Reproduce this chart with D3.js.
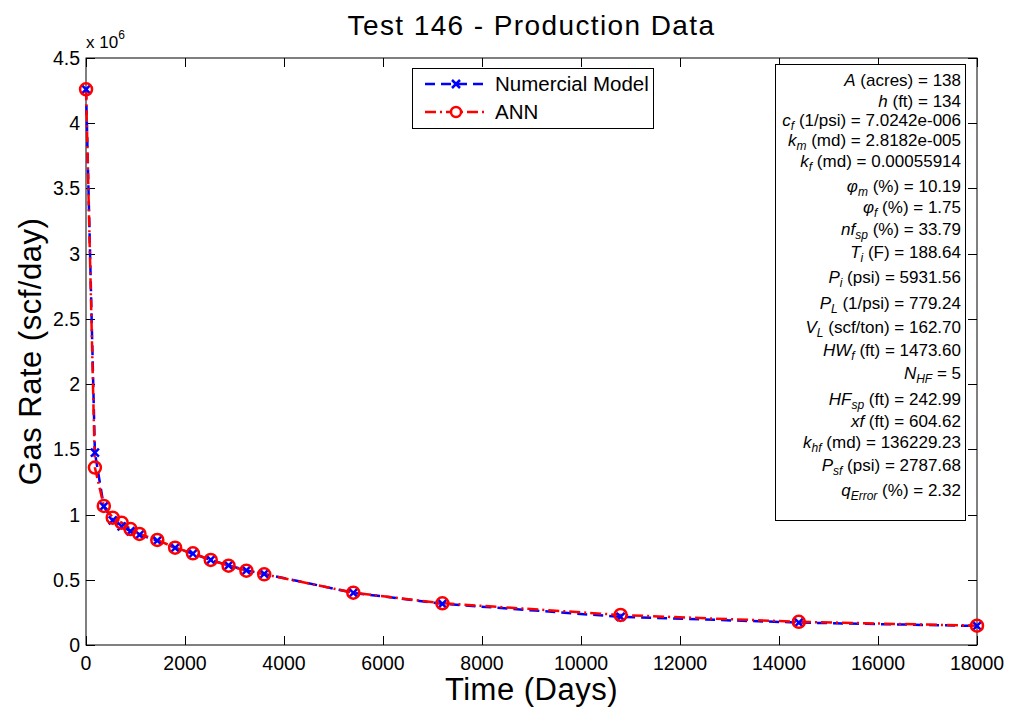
<!DOCTYPE html>
<html>
<head>
<meta charset="utf-8">
<script src="https://cdn.jsdelivr.net/npm/d3@7"></script>
<style>
  html, body { margin: 0; padding: 0; background: #fff; }
  svg { display: block; font-family: "Liberation Sans", Arial, sans-serif; }
</style>
</head>
<body>
<svg id="chart" width="1010" height="713"></svg>
<script>
// time in days, rates in scf/day
const TIME= [1, 180, 360, 540, 720, 900, 1080, 1440, 1800, 2160, 2520, 2880, 3240, 3600, 5400, 7200, 10800, 14400, 18000];
const NUMERICAL= [4.26e6, 1.474e6, 1.062e6, 0.955e6, 0.91e6, 0.872e6, 0.845e6, 0.80e6, 0.745e6, 0.70e6, 0.652e6, 0.61e6, 0.572e6, 0.545e6, 0.40e6, 0.316e6, 0.216e6, 0.172e6, 0.146e6];
const ANN= [4.26e6, 1.36e6, 1.066e6, 0.976e6, 0.938e6, 0.889e6, 0.851e6, 0.805e6, 0.746e6, 0.703e6, 0.652e6, 0.608e6, 0.570e6, 0.542e6, 0.401e6, 0.320e6, 0.230e6, 0.178e6, 0.148e6];

const X_TICKS= [0, 2000, 4000, 6000, 8000, 10000, 12000, 14000, 16000, 18000];
const Y_TICKS= [0, 0.5e6, 1e6, 1.5e6, 2e6, 2.5e6, 3e6, 3.5e6, 4e6, 4.5e6];

const SERIES_NAMES= ['Numercial Model', 'ANN'];

// parameter box: symbol, subscript, unit text, value
const PARAM_SYM= ['A', 'h', 'c', 'k', 'k', 'φ', 'φ', 'nf', 'T', 'P', 'P', 'V', 'HW', 'N', 'HF', 'xf', 'k', 'P', 'q'];
const PARAM_SUB= ['', '', 'f', 'm', 'f', 'm', 'f', 'sp', 'i', 'i', 'L', 'L', 'f', 'HF', 'sp', '', 'hf', 'sf', 'Error'];
const PARAM_UNIT= ['(acres)', '(ft)', '(1/psi)', '(md)', '(md)', '(%)', '(%)', '(%)', '(F)', '(psi)', '(1/psi)', '(scf/ton)', '(ft)', '', '(ft)', '(ft)', '(md)', '(psi)', '(%)'];
const PARAM_VAL= ['138', '134', '7.0242e-006', '2.8182e-005', '0.00055914', '10.19', '1.75', '33.79', '188.64', '5931.56', '779.24', '162.70', '1473.60', '5', '242.99', '604.62', '136229.23', '2787.68', '2.32'];
const PARAM_Y= [80, 101, 120, 140, 161, 186, 207, 229, 252, 277, 303, 327, 350, 373, 399, 421, 442, 465, 490];

const svg= d3.select('#chart');
const L= 86, R= 977, T= 58, B= 645;

const x= d3.scaleLinear().domain([0, 18000]).range([L, R]);
const y= d3.scaleLinear().domain([0, 4.5e6]).range([B, T]);

// axes box
const gAx= svg.append('g');
const TL= 9;

gAx.append('rect')
  .attr('x', L).attr('y', T)
  .attr('width', R-L).attr('height', B-T)
  .attr('fill', 'none').attr('stroke', '#000').attr('stroke-width', 1);

X_TICKS.forEach(v => {
  const px= Math.round(x(v))+0.5;
  gAx.append('line').attr('x1', px).attr('x2', px).attr('y1', B).attr('y2', B-TL).attr('stroke', '#000');
  gAx.append('line').attr('x1', px).attr('x2', px).attr('y1', T).attr('y2', T+TL).attr('stroke', '#000');
  gAx.append('text')
    .attr('x', x(v)).attr('y', B+25)
    .attr('text-anchor', 'middle')
    .attr('font-size', 19.5)
    .text(v);
});

Y_TICKS.forEach(v => {
  const py= Math.round(y(v))+0.5;
  gAx.append('line').attr('x1', L).attr('x2', L+TL).attr('y1', py).attr('y2', py).attr('stroke', '#000');
  gAx.append('line').attr('x1', R).attr('x2', R-TL).attr('y1', py).attr('y2', py).attr('stroke', '#000');
  gAx.append('text')
    .attr('x', L-6).attr('y', y(v)+7)
    .attr('text-anchor', 'end')
    .attr('font-size', 19.5)
    .text(d3.format('~g')(v/1e6));
});

// exponent label
const expT= svg.append('text').attr('x', 86).attr('y', 48).attr('font-size', 17);
expT.append('tspan').text('x 10');
expT.append('tspan').attr('dy', -9).attr('font-size', 12).text('6');

// title and axis labels
svg.append('text')
  .attr('x', (L+R)/2).attr('y', 35)
  .attr('text-anchor', 'middle')
  .attr('font-size', 28)
  .attr('letter-spacing', 1.4)
  .text('Test 146 - Production Data');

svg.append('text')
  .attr('x', (L+R)/2).attr('y', 700)
  .attr('text-anchor', 'middle')
  .attr('font-size', 31)
  .attr('letter-spacing', 0.5)
  .text('Time (Days)');

svg.append('text')
  .attr('transform', `translate(41,${(T+B)/2}) rotate(-90)`)
  .attr('text-anchor', 'middle')
  .attr('font-size', 31)
  .attr('letter-spacing', 0.5)
  .text('Gas Rate (scf/day)');

// series
const line= d3.line().x(d => x(d[0])).y(d => y(d[1]));
const numPts= TIME.map((t, i) => [t, NUMERICAL[i]]);
const annPts= TIME.map((t, i) => [t, ANN[i]]);

const gData= svg.append('g');

gData.append('path')
  .datum(numPts)
  .attr('d', line)
  .attr('fill', 'none')
  .attr('stroke', '#0000ff')
  .attr('stroke-width', 2.5)
  .attr('stroke-dasharray', '10,6');

gData.append('path')
  .datum(annPts)
  .attr('d', line)
  .attr('fill', 'none')
  .attr('stroke', '#ff0000')
  .attr('stroke-width', 2.5)
  .attr('stroke-dasharray', '11,4,2,4');

function xMark(g, cx, cy, s) {
  g.append('path')
    .attr('d', `M${cx-s},${cy-s}L${cx+s},${cy+s}M${cx-s},${cy+s}L${cx+s},${cy-s}`)
    .attr('stroke', '#0000ff').attr('stroke-width', 2.5).attr('fill', 'none');
}
function oMark(g, cx, cy, r) {
  g.append('circle')
    .attr('cx', cx).attr('cy', cy).attr('r', r)
    .attr('fill', 'none').attr('stroke', '#ff0000').attr('stroke-width', 2.5);
}

numPts.forEach(d => xMark(gData, x(d[0]), y(d[1]), 4));
annPts.forEach(d => oMark(gData, x(d[0]), y(d[1]), 6));

// legend
const gLeg= svg.append('g');
gLeg.append('rect')
  .attr('x', 412.5).attr('y', 68.5).attr('width', 241).attr('height', 60)
  .attr('fill', '#fff').attr('stroke', '#000').attr('stroke-width', 1);

const legY= [84, 112];
SERIES_NAMES.forEach((name, i) => {
  gLeg.append('line')
    .attr('x1', 425).attr('x2', 487).attr('y1', legY[i]).attr('y2', legY[i])
    .attr('stroke', i === 0 ? '#0000ff' : '#ff0000')
    .attr('stroke-width', 2.5)
    .attr('stroke-dasharray', i === 0 ? '10,6' : '11,4,2,4');
  if (i === 0) xMark(gLeg, 456, legY[i], 4);
  else {
    gLeg.append('circle').attr('cx', 456).attr('cy', legY[i]).attr('r', 5)
      .attr('fill', '#fff').attr('stroke', '#ff0000').attr('stroke-width', 2.5);
  }
  gLeg.append('text')
    .attr('x', 495).attr('y', legY[i]+7)
    .attr('font-size', 20.5)
    .text(name);
});

// parameter box
const gPar= svg.append('g');
gPar.append('rect')
  .attr('x', 775.5).attr('y', 64.5).attr('width', 190).attr('height', 456)
  .attr('fill', '#fff').attr('stroke', '#000').attr('stroke-width', 1);

PARAM_SYM.forEach((sym, i) => {
  const t= gPar.append('text')
    .attr('x', 961).attr('y', PARAM_Y[i]+6)
    .attr('text-anchor', 'end')
    .attr('font-size', 17);
  t.append('tspan').attr('font-style', 'italic').text(sym);
  if (PARAM_SUB[i]) {
    t.append('tspan').attr('font-style', 'italic').attr('font-size', 12).attr('dy', 4).text(PARAM_SUB[i]);
    t.append('tspan').attr('dy', -4).text(PARAM_UNIT[i] ? ' ' + PARAM_UNIT[i] + ' = ' + PARAM_VAL[i] : ' = ' + PARAM_VAL[i]);
  } else {
    t.append('tspan').text(PARAM_UNIT[i] ? ' ' + PARAM_UNIT[i] + ' = ' + PARAM_VAL[i] : ' = ' + PARAM_VAL[i]);
  }
});
</script>
</body>
</html>
